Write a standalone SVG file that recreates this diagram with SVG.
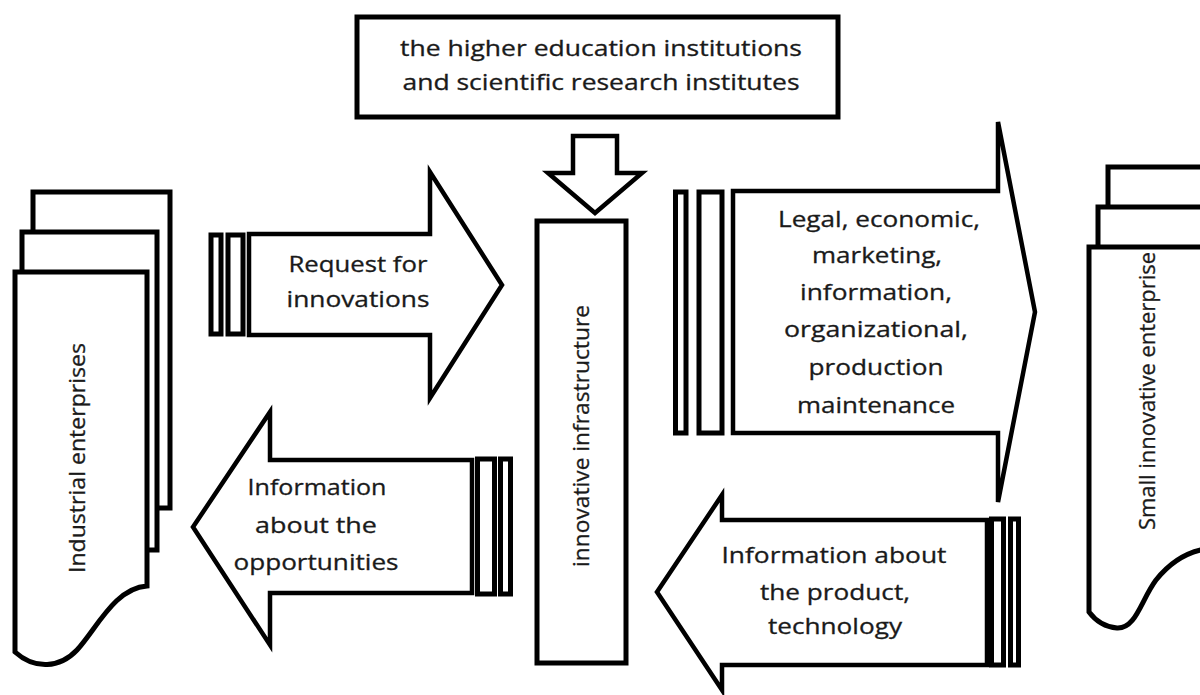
<svg xmlns="http://www.w3.org/2000/svg" width="1200" height="695" viewBox="0 0 1200 695">
<style>
.sh{fill:#fff;stroke:#000;stroke-width:5;stroke-linejoin:miter}
.ar{fill:#fff;stroke:#000;stroke-width:4.5;stroke-linejoin:miter}
.st{fill:#fff;stroke:#000;stroke-width:5}
text{font-family:"Open Sans","Liberation Sans",sans-serif;font-size:21px;fill:#1a1a1a;stroke:#1a1a1a;stroke-width:0.3;text-anchor:middle}
</style>
<rect width="1200" height="695" fill="#fff"/>
<g id="industrial">
<rect class="sh" x="33" y="192" width="137" height="316"/>
<rect class="sh" x="22" y="232" width="135" height="318"/>
<path class="sh" d="M15,272 H147 V586 C115,588 97,628 77,650 C60,668 35,670 15,652 Z"/>
<text transform="translate(78,458) rotate(-90)" y="7" textLength="230" lengthAdjust="spacingAndGlyphs">Industrial enterprises</text>
</g>
<g id="small">
<rect class="sh" x="1108" y="167" width="120" height="330"/>
<rect class="sh" x="1098" y="207" width="130" height="310"/>
<path class="sh" d="M1089,247 H1215 V548 C1192,549 1172,560 1156,580 C1141,600 1136,629 1117,628 C1105,627 1095,620 1089,612 Z"/>
<text transform="translate(1148,391) rotate(-90)" y="7" textLength="278" lengthAdjust="spacingAndGlyphs">Small innovative enterprise</text>
</g>
<g id="institutions">
<rect class="sh" x="357" y="17" width="481" height="100"/>
<text x="601" y="56" font-size="22" textLength="402" lengthAdjust="spacingAndGlyphs">the higher education institutions</text>
<text x="601" y="90" font-size="22" textLength="397" lengthAdjust="spacingAndGlyphs">and scientific research institutes</text>
</g>
<g id="infrastructure">
<rect class="sh" x="537" y="221" width="89" height="442"/>
<text transform="translate(582,436) rotate(-90)" y="7" textLength="262" lengthAdjust="spacingAndGlyphs">innovative infrastructure</text>
</g>
<g id="connectors">
<g id="down-arrow">
<polygon class="ar" points="573,136 617,136 617,173 642,173 595,213 548,173 573,173"/>
</g>
<g id="request-arrow">
<rect class="st" x="211" y="235" width="10" height="99"/>
<rect class="st" x="228" y="235" width="15" height="99"/>
<polygon class="ar" points="249,234 430,234 430,172 502,285 430,398 430,335 249,335"/>
<text x="358" y="272" textLength="139" lengthAdjust="spacingAndGlyphs">Request for</text>
<text x="358" y="307" textLength="143" lengthAdjust="spacingAndGlyphs">innovations</text>
</g>
<g id="opportunities-arrow">
<rect class="st" x="477.5" y="459" width="17" height="135"/>
<rect class="st" x="500.5" y="459" width="10" height="135"/>
<polygon class="ar" points="472,460 270,460 270,412 193,527 270,645 270,593 472,593"/>
<text x="317" y="495" textLength="139" lengthAdjust="spacingAndGlyphs">Information</text>
<text x="316" y="533" textLength="122" lengthAdjust="spacingAndGlyphs">about the</text>
<text x="316" y="570" textLength="165" lengthAdjust="spacingAndGlyphs">opportunities</text>
</g>
<g id="services-arrow">
<rect class="st" x="675.5" y="192" width="10.5" height="241"/>
<rect class="st" x="699" y="192" width="23" height="241"/>
<polygon class="ar" points="733,191 998,191 998,122 1035,312 998,502 998,433 733,433"/>
<text x="879" y="227" textLength="202" lengthAdjust="spacingAndGlyphs">Legal, economic,</text>
<text x="877" y="263" textLength="130" lengthAdjust="spacingAndGlyphs">marketing,</text>
<text x="876" y="300" textLength="152" lengthAdjust="spacingAndGlyphs">information,</text>
<text x="876" y="337" textLength="184" lengthAdjust="spacingAndGlyphs">organizational,</text>
<text x="876" y="375" textLength="135" lengthAdjust="spacingAndGlyphs">production</text>
<text x="876" y="413" textLength="158" lengthAdjust="spacingAndGlyphs">maintenance</text>
</g>
<g id="product-arrow">
<rect class="st" x="991.5" y="519" width="12" height="146"/>
<rect class="st" x="1010.5" y="519" width="8" height="146"/>
<polygon class="ar" points="987,520 722,520 722,495 657,592 722,690 722,665 987,665"/>
<text x="834" y="563" textLength="225" lengthAdjust="spacingAndGlyphs">Information about</text>
<text x="835" y="600" textLength="150" lengthAdjust="spacingAndGlyphs">the product,</text>
<text x="835" y="634" textLength="134" lengthAdjust="spacingAndGlyphs">technology</text>
</g>
</g>
</svg>
